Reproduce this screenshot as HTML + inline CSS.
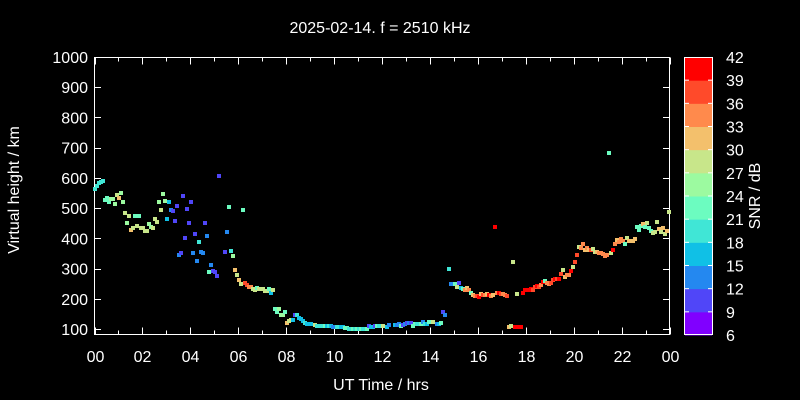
<!DOCTYPE html>
<html><head><meta charset="utf-8"><style>
html,body{margin:0;padding:0;background:#000;}
svg{display:block;}
text{font-family:"Liberation Sans",sans-serif;fill:#fff;}
</style></head><body>
<svg id="s" width="800" height="400" viewBox="0 0 800 400" xmlns="http://www.w3.org/2000/svg">
<rect width="800" height="400" fill="#000"/>
<text x="380" y="33" font-size="16" text-anchor="middle">2025-02-14. f = 2510 kHz</text>
<text x="381" y="390" font-size="16" text-anchor="middle">UT Time / hrs</text>
<text transform="translate(19,190) rotate(-90)" font-size="16" text-anchor="middle">Virtual height / km</text>
<text transform="translate(760,196) rotate(-90)" font-size="16" text-anchor="middle">SNR / dB</text>
<g id="axes" stroke="#fff" stroke-width="1" fill="none">
<rect x="94.5" y="57.5" width="575" height="277"/>
</g>
<g id="ylab" font-size="16" text-anchor="end"></g>
<g id="xlab" font-size="16" text-anchor="middle"></g>
<g id="pts"></g>
<g id="cb"></g>
</svg>
<script>
const NS="http://www.w3.org/2000/svg";
function el(p,t,a,txt){const e=document.createElementNS(NS,t);for(const k in a)e.setAttribute(k,a[k]);if(txt!==undefined)e.textContent=txt;p.appendChild(e);return e;}
const ax=document.getElementById('axes'),yl=document.getElementById('ylab'),xl=document.getElementById('xlab');
for(let v=100;v<=1000;v+=100){const y=329-(v-100)*30.22/100;const yy=Math.round(y)+0.5;
el(ax,'line',{x1:94.5,y1:yy,x2:101,y2:yy});el(ax,'line',{x1:663,y1:yy,x2:669.5,y2:yy});
el(yl,'text',{x:88,y:y+6},String(v));}
for(let h=0;h<=24;h++){const x=Math.round(94.5+h*23.96)+0.5;const L=h%2==0?7:4;
el(ax,'line',{x1:x,y1:334.5,x2:x,y2:334.5-L});el(ax,'line',{x1:x,y1:57.5,x2:x,y2:57.5+L});
if(h%2==0)el(xl,'text',{x:x,y:362},String(h%24).padStart(2,'0'));}
const C={v:'#8000ff',b:'#5046f8',B:'#2488f0',c:'#10c0e6',t:'#40e6d6',m:'#6cfcc0',l:'#9cfaa0',y:'#c8e68a',o:'#f3c06c',O:'#ff8a4c',r:'#ff4a2a',R:'#ff0000'};
const cols=['#8000ff','#5046f8','#2488f0','#10c0e6','#40e6d6','#6cfcc0','#9cfaa0','#c8e68a','#f3c06c','#ff8a4c','#ff4a2a','#ff0000'];
const cb=document.getElementById('cb');
const bt=57,bb=335,bh=(bb-bt)/12;
for(let i=0;i<12;i++){el(cb,'rect',{x:685,y:bb-(i+1)*bh,width:27,height:bh+0.5,fill:cols[i]});}
el(cb,'rect',{x:684.5,y:57.5,width:28,height:277,fill:'none',stroke:'#fff'});
for(let i=0;i<=12;i++){const y=bb-i*bh;
if(i>0&&i<12){el(cb,'line',{x1:685,y1:y,x2:689,y2:y,stroke:'#fff'});el(cb,'line',{x1:708,y1:y,x2:712,y2:y,stroke:'#fff'});}
el(cb,'text',{x:726,y:y+6,'font-size':16},String(6+3*i));}
const D="95,189,t 97,186,t 99,183,t 101,182,t 103,181,t 105,200,m 107,198,m 109,202,m 111,199,l 113,199,l 115,204,l 117,195,y 119,198,o 121,193,l 123,202,l 125,213,y 127,223,l 129,216,y 131,230,o 133,228,y 135,216,m 137,226,y 139,216,m 141,228,y 143,228,y 145,231,y 147,231,y 149,224,l 151,227,l 153,228,y 155,219,y 157,222,y 159,202,l 161,210,y 163,194,l 165,201,l 167,219,c 169,202,c 171,210,B 173,211,b 175,221,b 177,206,b 179,255,B 181,253,b 183,196,b 185,238,b 187,209,b 189,223,b 191,202,b 193,253,B 195,234,b 197,261,B 199,242,t 201,252,B 203,253,B 205,223,b 207,236,B 209,272,m 211,265,B 213,271,b 215,272,b 217,276,b 219,176,b 225,252,b 227,232,B 229,207,m 231,251,t 233,256,l 235,270,o 237,275,y 239,280,o 241,284,y 243,210,m 245,283,r 247,285,r 249,287,O 251,287,O 253,289,y 255,290,y 257,288,m 259,289,y 261,289,y 263,289,y 265,291,y 267,291,y 269,289,m 271,293,c 273,290,y 275,309,m 277,312,m 279,309,l 281,315,l 283,315,l 285,312,m 287,323,o 289,321,y 291,320,y 293,320,c 295,315,b 297,315,t 299,318,c 301,319,c 303,321,c 305,323,t 307,324,c 309,324,c 311,324,c 315,325,y 317,326,t 321,326,t 323,326,t 325,326,m 327,326,c 329,326,t 331,326,c 333,327,B 337,327,t 339,327,t 341,327,c 343,327,c 345,328,m 347,328,m 349,329,t 351,329,t 353,329,m 355,329,t 357,329,m 359,329,t 361,329,m 363,329,t 365,329,t 367,329,m 369,326,b 371,327,c 373,327,c 375,326,b 377,326,m 379,326,t 383,326,y 387,327,c 389,325,B 395,325,c 397,325,B 399,324,B 401,326,m 403,325,b 405,324,B 407,323,b 409,323,B 411,323,b 413,326,m 415,324,m 417,324,t 421,324,m 423,322,B 425,324,t 427,324,c 429,322,m 433,322,y 437,324,B 439,324,c 441,323,m 443,312,b 445,315,B 449,269,t 451,284,B 453,284,B 455,284,m 457,287,y 459,283,b 461,288,c 463,289,m 465,290,O 467,288,o 469,290,O 471,293,m 473,295,o 475,296,O 477,296,r 479,297,R 481,294,o 483,295,r 485,295,O 487,294,o 489,295,R 491,296,O 493,295,o 495,227,R 497,293,O 499,293,R 501,294,r 503,294,O 505,295,O 507,296,r 509,327,o 511,326,y 513,262,y 515,327,R 517,294,y 519,327,R 521,327,R 523,293,R 525,290,R 527,290,R 529,290,R 531,289,R 533,290,r 535,287,r 537,286,R 539,287,r 541,285,O 543,282,R 545,281,m 547,283,O 549,284,O 551,283,r 553,280,r 555,279,R 557,279,r 559,279,R 561,274,r 563,270,y 565,277,o 567,275,O 569,275,O 571,271,R 573,267,y 575,262,r 577,255,r 579,247,y 581,248,O 583,244,O 585,250,o 587,248,O 589,250,o 591,250,r 593,249,y 595,252,y 597,252,o 599,253,O 601,253,O 603,254,O 605,256,O 607,255,O 609,153,m 611,253,y 613,250,R 615,244,O 617,240,o 619,242,O 621,239,O 623,241,O 625,244,m 627,238,y 629,241,o 631,241,o 633,241,o 635,239,o 637,227,m 639,230,m 641,226,m 643,224,o 645,227,m 647,223,y 649,228,m 651,231,m 653,233,y 655,232,y 657,222,y 659,229,o 661,232,y 663,228,o 665,234,y 667,231,o 669,212,y";
const P=document.getElementById('pts');
D.split(' ').forEach(s=>{const [x,y,c]=s.split(',');el(P,'rect',{x:+x-2,y:+y-2,width:4,height:4,fill:C[c]});});
</script>
</body></html>
